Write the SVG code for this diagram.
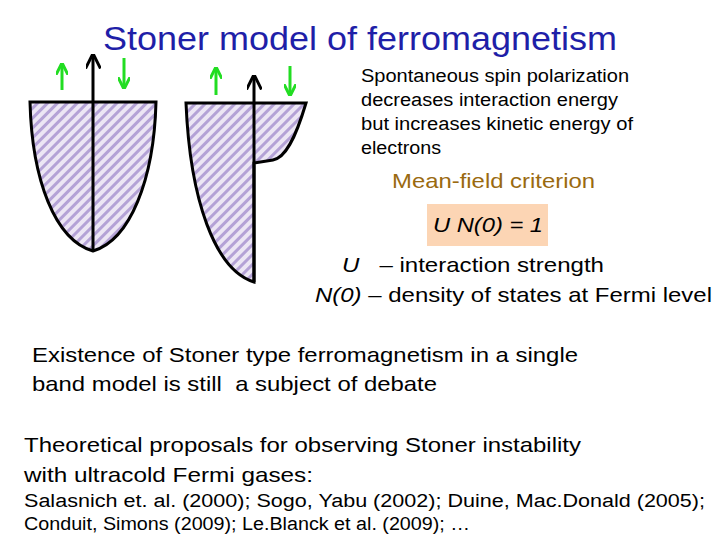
<svg xmlns="http://www.w3.org/2000/svg" width="720" height="540" viewBox="0 0 720 540">
<defs>
<pattern id="h" width="7" height="7" patternUnits="userSpaceOnUse" patternTransform="rotate(45)">
<rect width="7" height="7" fill="#ece6f4"/><rect width="3" height="7" fill="#b4a2d6"/></pattern>
<marker id="ab" viewBox="0 0 10 10" refX="9" refY="5" markerWidth="5" markerHeight="5" orient="auto"><path d="M0,0L10,5L0,10" fill="none" stroke="#000" stroke-width="2"/></marker>
<marker id="ag" viewBox="0 0 10 10" refX="9" refY="5" markerWidth="4" markerHeight="4" orient="auto"><path d="M0,0L10,5L0,10" fill="none" stroke="#22dd22" stroke-width="2.5"/></marker>
</defs>
<style>
text{font-family:"Liberation Sans",Arial,sans-serif}
.s{stroke:#000;stroke-width:3;fill:url(#h)}
.g{stroke:#22dd22;stroke-width:3;fill:none;marker-end:url(#ag)}
.k{stroke:#000;stroke-width:3;fill:none;marker-end:url(#ab)}
</style>
<rect width="720" height="540" fill="#fff"/>
<text x="103" y="50" font-size="33" fill="#1f1fa8" textLength="514" lengthAdjust="spacingAndGlyphs">Stoner model of ferromagnetism</text>
<g id="left">
<path class="s" d="M30,102 L156,102 C154,180 130,240 93,251 C55,240 32,180 30,102 Z"/>
<line class="k" x1="93" y1="251" x2="93" y2="55"/>
<line class="g" x1="62" y1="90" x2="62" y2="64"/>
<line class="g" x1="124" y1="58" x2="124" y2="88"/>
</g>
<g id="right">
<path class="s" d="M186,103 L306,103 C295,140 285,158 273,160 L254,163 L254,282 C215,270 190,200 186,103 Z"/>
<line class="k" x1="254" y1="282" x2="254" y2="76"/>
<line class="g" x1="216" y1="95" x2="216" y2="68"/>
<line class="g" x1="290" y1="66" x2="290" y2="95"/>
</g>
<g font-size="18" lengthAdjust="spacingAndGlyphs">
<text x="361" y="82" textLength="268" lengthAdjust="spacingAndGlyphs">Spontaneous spin polarization</text>
<text x="361" y="106" textLength="257" lengthAdjust="spacingAndGlyphs">decreases interaction energy</text>
<text x="361" y="130" textLength="272" lengthAdjust="spacingAndGlyphs">but increases kinetic energy of</text>
<text x="361" y="154" textLength="80" lengthAdjust="spacingAndGlyphs">electrons</text>
</g>
<text x="392" y="188" font-size="21" fill="#9a6a10" textLength="203" lengthAdjust="spacingAndGlyphs">Mean-field criterion</text>
<rect x="427" y="204" width="121" height="42" fill="#fcd5b4"/>
<text x="433" y="232" font-size="21" font-style="italic" textLength="110" lengthAdjust="spacingAndGlyphs">U N(0) = 1</text>
<g font-size="21">
<text x="342" y="272" xml:space="preserve" textLength="262" lengthAdjust="spacingAndGlyphs"><tspan font-style="italic">U</tspan>   – interaction strength</text>
<text x="315" y="302" textLength="397" lengthAdjust="spacingAndGlyphs"><tspan font-style="italic">N(0)</tspan> – density of states at Fermi level</text>
<text x="32" y="362" textLength="546" lengthAdjust="spacingAndGlyphs">Existence of Stoner type ferromagnetism in a single</text>
<text x="32" y="391" xml:space="preserve" textLength="405" lengthAdjust="spacingAndGlyphs">band model is still  a subject of debate</text>
<text x="24" y="452" textLength="557" lengthAdjust="spacingAndGlyphs">Theoretical proposals for observing Stoner instability</text>
<text x="24" y="482" textLength="289" lengthAdjust="spacingAndGlyphs">with ultracold Fermi gases:</text>
</g>
<g font-size="18">
<text x="24" y="507" textLength="681" lengthAdjust="spacingAndGlyphs">Salasnich et. al. (2000); Sogo, Yabu (2002); Duine, Mac.Donald (2005);</text>
<text x="24" y="530" textLength="446" lengthAdjust="spacingAndGlyphs">Conduit, Simons (2009); Le.Blanck et al. (2009); …</text>
</g>
</svg>
